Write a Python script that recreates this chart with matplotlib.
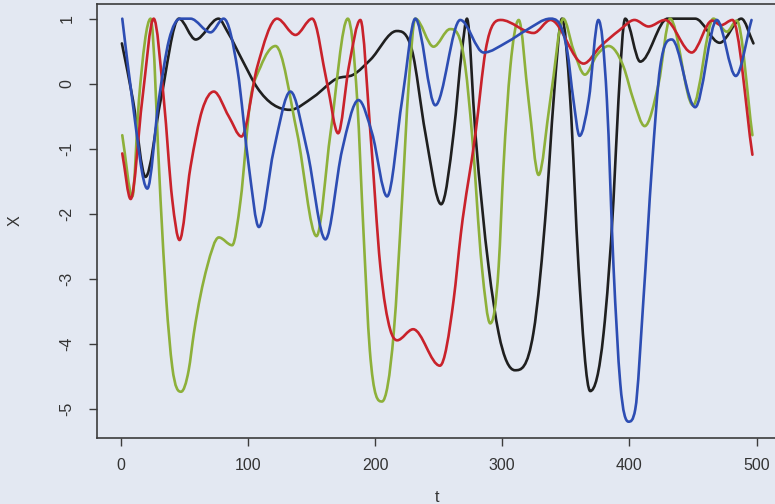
import numpy as np
import matplotlib
matplotlib.use("Agg")
import matplotlib.pyplot as plt
from matplotlib.path import Path
from matplotlib.patches import PathPatch

# valores (t, X) - extremos e pontos ao longo das encostas
preto_t = [1, 9.7, 19.6, 31.5, 45.8, 59, 77, 84, 96, 107.4, 133, 151.8, 170, 183, 196.4, 217, 229,
           239.6, 252, 261.8, 268.4, 272.3, 278.9, 289.3, 297.2, 310, 324.5, 335, 340.4, 347, 353.5,
           360, 369.2, 379.7, 387.5, 391.4, 396.7, 408.5, 430, 451.7, 471, 488, 497.5]
preto_x = [0.62, -0.25, -1.43, -0.25, 1.0, 0.68, 1.0, 0.8, 0.35, -0.06, -0.40, -0.2, 0.08, 0.14, 0.37,
           0.81, 0.52, -0.76, -1.85, -0.76, 0.52, 1.0, -0.76, -2.81, -3.83, -4.40, -3.83, -1.78, -0.25,
           1.0, -0.25, -2.81, -4.72, -3.83, -1.78, -0.25, 1.0, 0.34, 1.0, 1.0, 0.63, 1.0, 0.62]

vermelho_t = [1.3, 7.9, 17, 26, 34, 40.6, 46.3, 55, 64.2, 73.3, 85, 95, 107.4, 123, 137.5, 150.6, 162.4,
              171, 179.4, 188.5, 196.4, 204.2, 212, 217.4, 230, 251, 261.8, 267.5, 279, 287, 299, 324.7,
              338, 364, 377, 392, 404, 415, 428, 449, 465, 472, 481, 496.7]
vermelho_x = [-1.07, -1.77, -0.25, 1.0, -0.25, -1.78, -2.40, -1.27, -0.40, -0.12, -0.5, -0.81, 0.26, 1.0,
              0.75, 1.0, 0.0, -0.76, 0.26, 0.98, -0.76, -2.81, -3.78, -3.94, -3.77, -4.33, -3.32, -2.30,
              -0.76, 0.52, 0.98, 0.78, 0.98, 0.31, 0.57, 0.82, 0.98, 0.88, 0.98, 0.48, 0.97, 0.9, 0.98, -1.09]

verde_t = [1.3, 9.2, 14.4, 23.6, 31.4, 35.9, 40.6, 47.5, 53.5, 57.6, 68, 77.2, 87.7, 94.3, 102, 110,
           121.8, 138.8, 154, 165, 178.6, 186, 191, 195.9, 205.5, 214.7, 221.3, 226.5, 231.7, 246, 259,
           271, 276.2, 284, 290.6, 297.2, 301, 306.4, 313, 320.7, 328.6, 337.8, 348, 356, 365, 374.4,
           383.6, 395.4, 403.2, 412, 422.9, 432, 450, 466, 476.6, 484.4, 496.7]
verde_x = [-0.79, -1.73, -0.25, 1.0, -1.79, -3.32, -4.35, -4.73, -4.4, -3.83, -2.81, -2.36, -2.48, -1.79,
           -0.25, 0.26, 0.58, -0.76, -2.34, -0.76, 1.0, -0.25, -2.3, -4.09, -4.88, -3.83, -1.78, 0.0, 1.0,
           0.57, 0.84, 0.26, -0.76, -2.81, -3.68, -2.81, -1.27, 0.26, 0.98, -0.25, -1.40, -0.25, 1.0,
           0.52, 0.14, 0.44, 0.58, 0.26, -0.25, -0.65, 0.0, 1.0, -0.33, 1.0, 0.8, 0.97, -0.79]

azul_t = [1.3, 9.2, 21, 30, 38, 47, 55, 70.7, 81, 92, 100.8, 108.7, 120.4, 133.5, 146.6, 161, 174.1,
          187, 197.7, 209.5, 221.3, 231.7, 247.4, 267, 285.4, 303.8, 319.5, 337.8, 351, 356, 360.8,
          368, 375.6, 382.3, 387.5, 392.8, 399.3, 404.6, 411, 417.7, 424.2, 433.4, 451.7, 468.7,
          483.6, 496]
azul_x = [1.0, -0.25, -1.61, -0.25, 0.67, 1.0, 1.0, 0.79, 1.0, 0.2, -1.27, -2.20, -1.02, -0.12, -1.02,
          -2.39, -1.02, -0.25, -0.76, -1.73, -0.25, 1.0, -0.33, 0.98, 0.48, 0.64, 0.83, 1.0, 0.52,
          -0.25, -0.80, -0.25, 0.98, -0.25, -2.81, -4.60, -5.19, -5.0, -3.32, -1.27, 0.26, 0.68, -0.36,
          0.98, 0.12, 0.98]

xticks = [0, 100, 200, 300, 400, 500]
yticks = [-5, -4, -3, -2, -1, 0, 1]

fundo = '#e3e8f2'
cores = ['#1f1f1f', '#c9222b', '#8db03a', '#2d4db3']


def curva(t, x):
    # curva suave pelos pontos lidos: inclinação de 3 pontos, zero nos extremos, limitada (sem overshoot)
    t = np.asarray(t, float)
    x = np.asarray(x, float)
    h = np.diff(t)
    d = np.diff(x) / h
    m = np.zeros_like(x)
    m[0] = d[0]
    m[-1] = d[-1]
    for k in range(1, len(x) - 1):
        if d[k - 1] * d[k] > 0:
            s = (h[k] * d[k - 1] + h[k - 1] * d[k]) / (h[k - 1] + h[k])
            lim = 3 * min(abs(d[k - 1]), abs(d[k]))
            m[k] = np.sign(s) * min(abs(s), lim)
    verts = [(t[0], x[0])]
    codes = [Path.MOVETO]
    for k in range(len(h)):
        verts += [(t[k] + h[k] / 3, x[k] + m[k] * h[k] / 3),
                  (t[k + 1] - h[k] / 3, x[k + 1] - m[k + 1] * h[k] / 3),
                  (t[k + 1], x[k + 1])]
        codes += [Path.CURVE4] * 3
    return Path(verts, codes)


plt.rcParams['font.family'] = ['Liberation Sans', 'DejaVu Sans']

fig = plt.figure(figsize=(7.75, 5.04), dpi=100, facecolor=fundo)
ax = fig.add_axes([96.5 / 775, (504 - 437.5) / 504, (782 - 96.5) / 775, (437.5 - 3.5) / 504])
ax.set_facecolor(fundo)

series = [(preto_t, preto_x), (verde_t, verde_x), (vermelho_t, vermelho_x), (azul_t, azul_x)]
series_cores = [cores[0], cores[2], cores[1], cores[3]]
for (t, x), c in zip(series, series_cores):
    ax.add_patch(PathPatch(curva(t, x), fill=False, edgecolor=c, lw=1.9,
                           capstyle='round', joinstyle='round'))

ax.set_xlim(-18.96, 519.96)
ax.set_ylim(-5.433, 1.233)
ax.set_xticks(xticks, [str(v) for v in xticks])
ax.set_yticks(yticks, [str(v) for v in yticks], rotation=90, va='center')
ax.tick_params(direction='out', length=6, width=1, colors='#3c3c3c', labelcolor='#333333',
               labelsize=11.5)
ax.tick_params(axis='x', pad=9)
ax.tick_params(axis='y', pad=10)
for s in ax.spines.values():
    s.set_color('#3c3c3c')
    s.set_linewidth(1.2)

ax.set_xlabel('t', fontsize=11.5, color='#333333', va='center')
ax.set_ylabel('X', fontsize=11.5, color='#333333', va='center')
ax.xaxis.set_label_coords(0.497, -0.139)
ax.yaxis.set_label_coords(-0.119, 0.5)

fig.savefig('out.png', dpi=100, facecolor=fundo)
